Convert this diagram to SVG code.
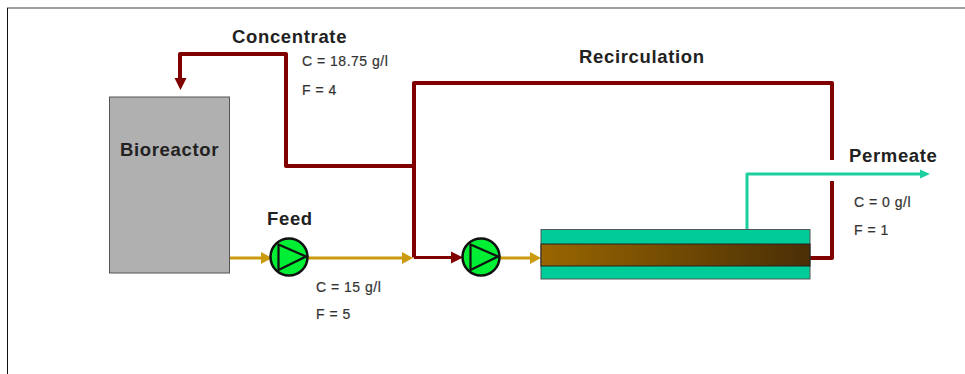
<svg xmlns="http://www.w3.org/2000/svg" width="965" height="374" viewBox="0 0 965 374">
<defs>
<linearGradient id="grad"><stop offset="0" stop-color="#996600"/><stop offset="1" stop-color="#4a2f06"/></linearGradient>
<g id="pump"><circle r="18.500" fill="#00ee33" stroke="#111" stroke-width="2.500"/><path d="M-10.500-12.500L17-0.500L-10.500 13Z" fill="#00ee33" stroke="#111" stroke-width="2.200" stroke-linejoin="miter"/></g>
</defs>
<style>
text{font-family:"Liberation Sans",Arial,sans-serif;fill:#222}
.h{font-size:18.500px;font-weight:700;letter-spacing:.65px}
.s{font-size:14px;fill:#333;letter-spacing:.5px;stroke:#333;stroke-width:.2px}
.line{fill:none;stroke-linejoin:round}
.red{stroke:#800000;stroke-width:4}
.gold{stroke:#cc9a0e;stroke-width:3}
.teal{stroke:#1dcf9f;stroke-width:3}
</style>
<rect width="965" height="374" fill="#fff"/>
<path d="M7 8H965" stroke="#808080" stroke-width="1.500"/>
<path d="M7.500 8V374" stroke="#111" stroke-width="1"/>
<g id="connectors">
<path class="line red" d="M180 78V54H286V166H413"/>
<path d="M174.500 78H186.500L180.500 90Z" fill="#800000"/>
<path class="line red" d="M414 257.500V83H832V160"/>
<path class="line red" d="M832 181V258H810"/>
<path class="line" stroke="#800000" stroke-width="3" d="M414 257.500H452"/>
<path d="M451 251.500L463 257.500L451 263.500Z" fill="#800000"/>
<path class="line gold" d="M230 258H262"/>
<path d="M261 252L272 258L261 264Z" fill="#cc9a0e"/>
<path class="line gold" d="M307 258H403"/>
<path d="M402 252L413 258L402 264Z" fill="#cc9a0e"/>
<path class="line gold" d="M498 258H531"/>
<path d="M530 252L541 258L530 264Z" fill="#cc9a0e"/>
<path class="line teal" d="M747 230V174H921"/>
<path d="M920 169.500L930 174L920 178.500Z" fill="#1dcf9f"/>
</g>
<g id="bioreactor"><rect x="109.500" y="97" width="120" height="176" fill="#b0b0b0" stroke="#555" stroke-width="1"/><text class="h" x="120" y="156">Bioreactor</text></g>
<g id="pump1"><use href="#pump" x="289" y="257"/></g>
<g id="pump2"><use href="#pump" x="481" y="257"/></g>
<g id="membrane">
<rect x="541" y="229.500" width="269" height="49.500" fill="#00cc99" stroke="#555" stroke-width="1"/>
<rect x="541" y="244" width="269" height="22" fill="url(#grad)" stroke="#222" stroke-width="1"/>
</g>
<g id="labels">
<text class="h" x="232" y="43">Concentrate</text>
<text class="s" x="302" y="66">C = 18.75 g/l</text>
<text class="s" x="302" y="94.500">F = 4</text>
<text class="h" x="579" y="63">Recirculation</text>
<text class="h" x="267" y="225">Feed</text>
<text class="s" x="316" y="291.500">C = 15 g/l</text>
<text class="s" x="316" y="319">F = 5</text>
<text class="h" x="849" y="162">Permeate</text>
<text class="s" x="854" y="207">C = 0 g/l</text>
<text class="s" x="854" y="235">F = 1</text>
</g>
</svg>
